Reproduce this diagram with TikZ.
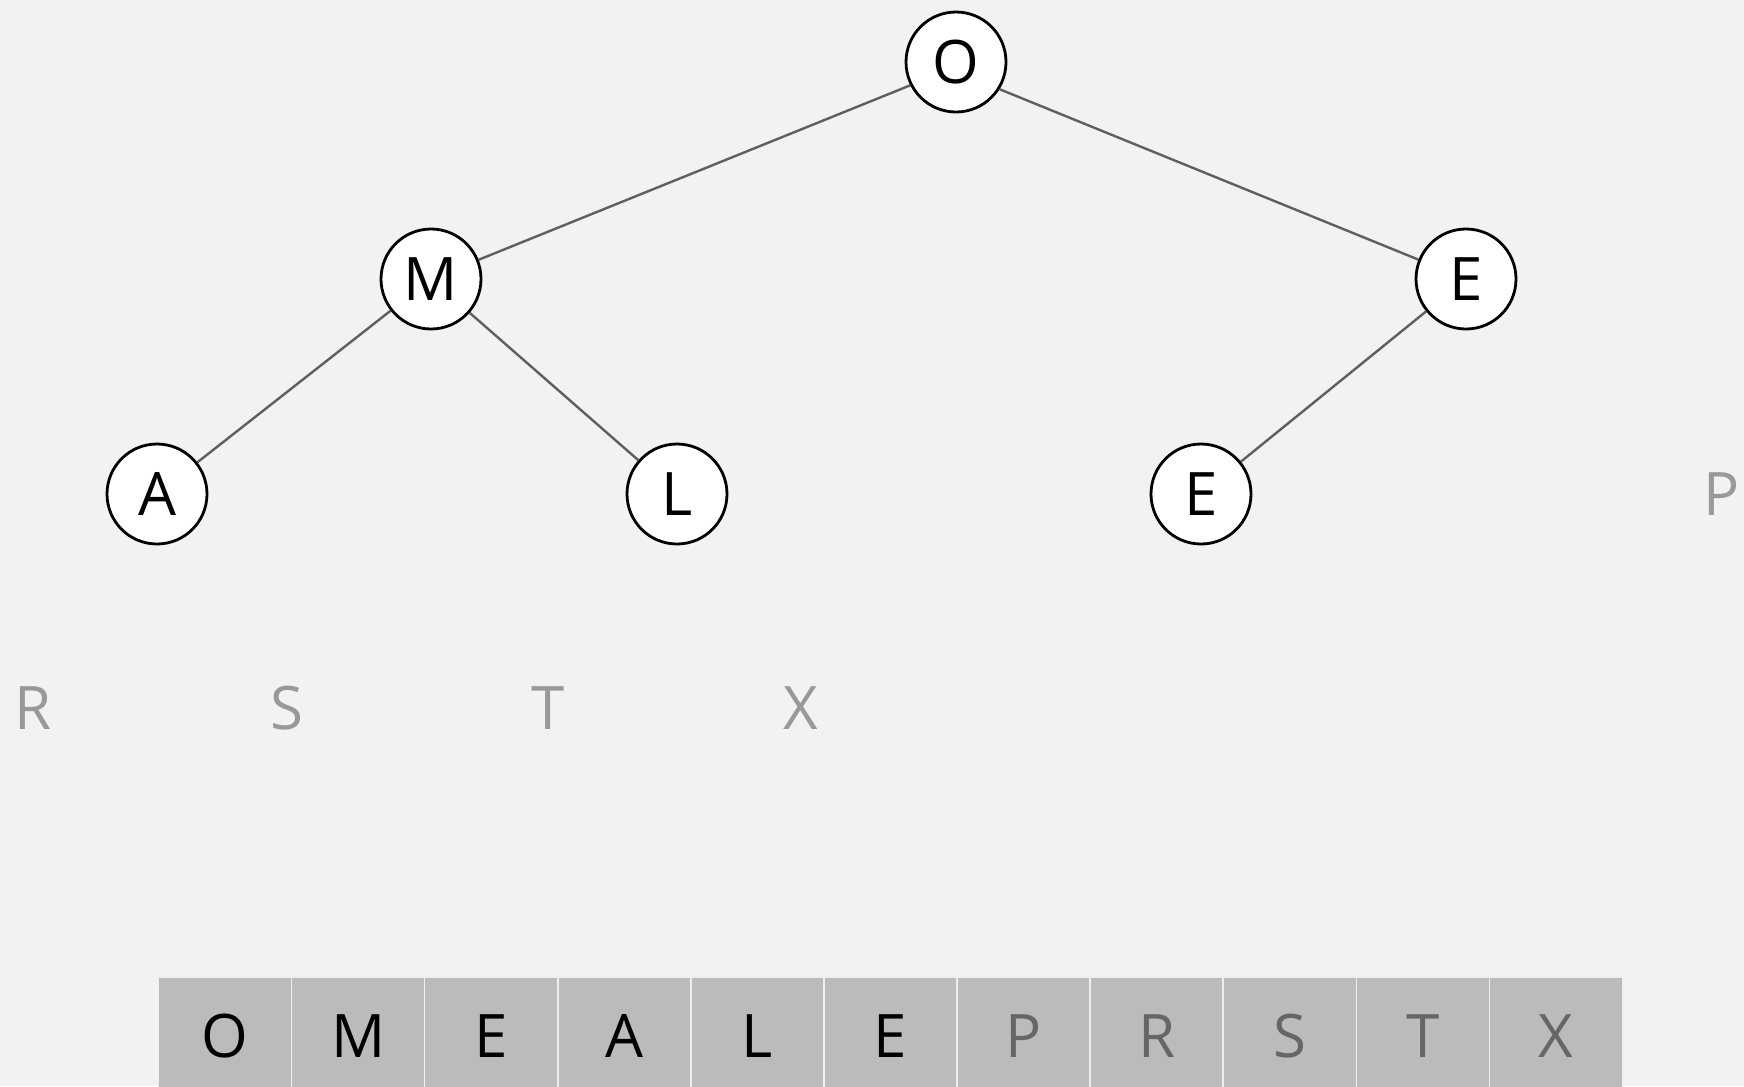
\documentclass[tikz,border=0pt]{standalone}
\usepackage{fontspec}
\setmainfont{Open Sans}
\definecolor{bg}{HTML}{F2F2F2}
\definecolor{cellfill}{HTML}{BBBBBB}
\definecolor{cellline}{HTML}{EEEEEE}
\definecolor{edgecol}{HTML}{5F5F5F}
\definecolor{ghost}{HTML}{999999}
\definecolor{ghostcell}{HTML}{666666}
\tikzset{
  heapnode/.style={circle, draw=black, fill=white, line width=2.1pt, minimum size=75pt, inner sep=0pt, font=\fontsize{45}{54}\selectfont},
  ghosttext/.style={text=ghost, inner sep=0pt, anchor=base, font=\fontsize{45}{54}\selectfont},
  heapedge/.style={draw=edgecol, line width=1.8pt},
  cellbox/.style={rectangle, draw=cellline, fill=cellfill, line width=1.2pt, minimum width=99.8pt, minimum height=88.5pt, inner sep=0pt, font=\fontsize{45}{54}\selectfont},
  donecell/.style={cellbox, text=black},
  todocell/.style={cellbox, text=ghostcell}
}
\begin{document}
\begin{tikzpicture}[x=0.75pt,y=-0.75pt]
\fill[bg] (0,0) rectangle (1744,1086);
\clip (0,0) rectangle (1744,1086);
% tree nodes
\node[heapnode] (O) at (956,62) {O};
\node[heapnode] (M) at (431,279) {M};
\node[heapnode] (E1) at (1466,279) {E};
\node[heapnode] (A) at (157,494) {A};
\node[heapnode] (L) at (677,494) {L};
\node[heapnode] (E2) at (1201,494) {E};
% ghost (removed) letters
\node[ghosttext] (gP) at (1722,515) {P};
\node[ghosttext] (gR) at (33,729.5) {R};
\node[ghosttext] (gS) at (287,729.5) {S};
\node[ghosttext] (gT) at (548,729.5) {T};
\node[ghosttext] (gX) at (801,729.5) {X};
% edges
\draw[heapedge] (O.207) -- (M);
\draw[heapedge] (O.-32) -- (E1);
\draw[heapedge] (M) -- (A);
\draw[heapedge] (M) -- (L);
\draw[heapedge] (E1) -- (E2);
% array
\node[donecell] (c0) at (225.0,1036) {O};
\node[donecell] (c1) at (358.1,1036) {M};
\node[donecell] (c2) at (491.2,1036) {E};
\node[donecell] (c3) at (624.3,1036) {A};
\node[donecell] (c4) at (757.4,1036) {L};
\node[donecell] (c5) at (890.5,1036) {E};
\node[todocell] (c6) at (1023.6,1036) {P};
\node[todocell] (c7) at (1156.7,1036) {R};
\node[todocell] (c8) at (1289.8,1036) {S};
\node[todocell] (c9) at (1422.9,1036) {T};
\node[todocell] (c10) at (1556.0,1036) {X};
\end{tikzpicture}
\end{document}
